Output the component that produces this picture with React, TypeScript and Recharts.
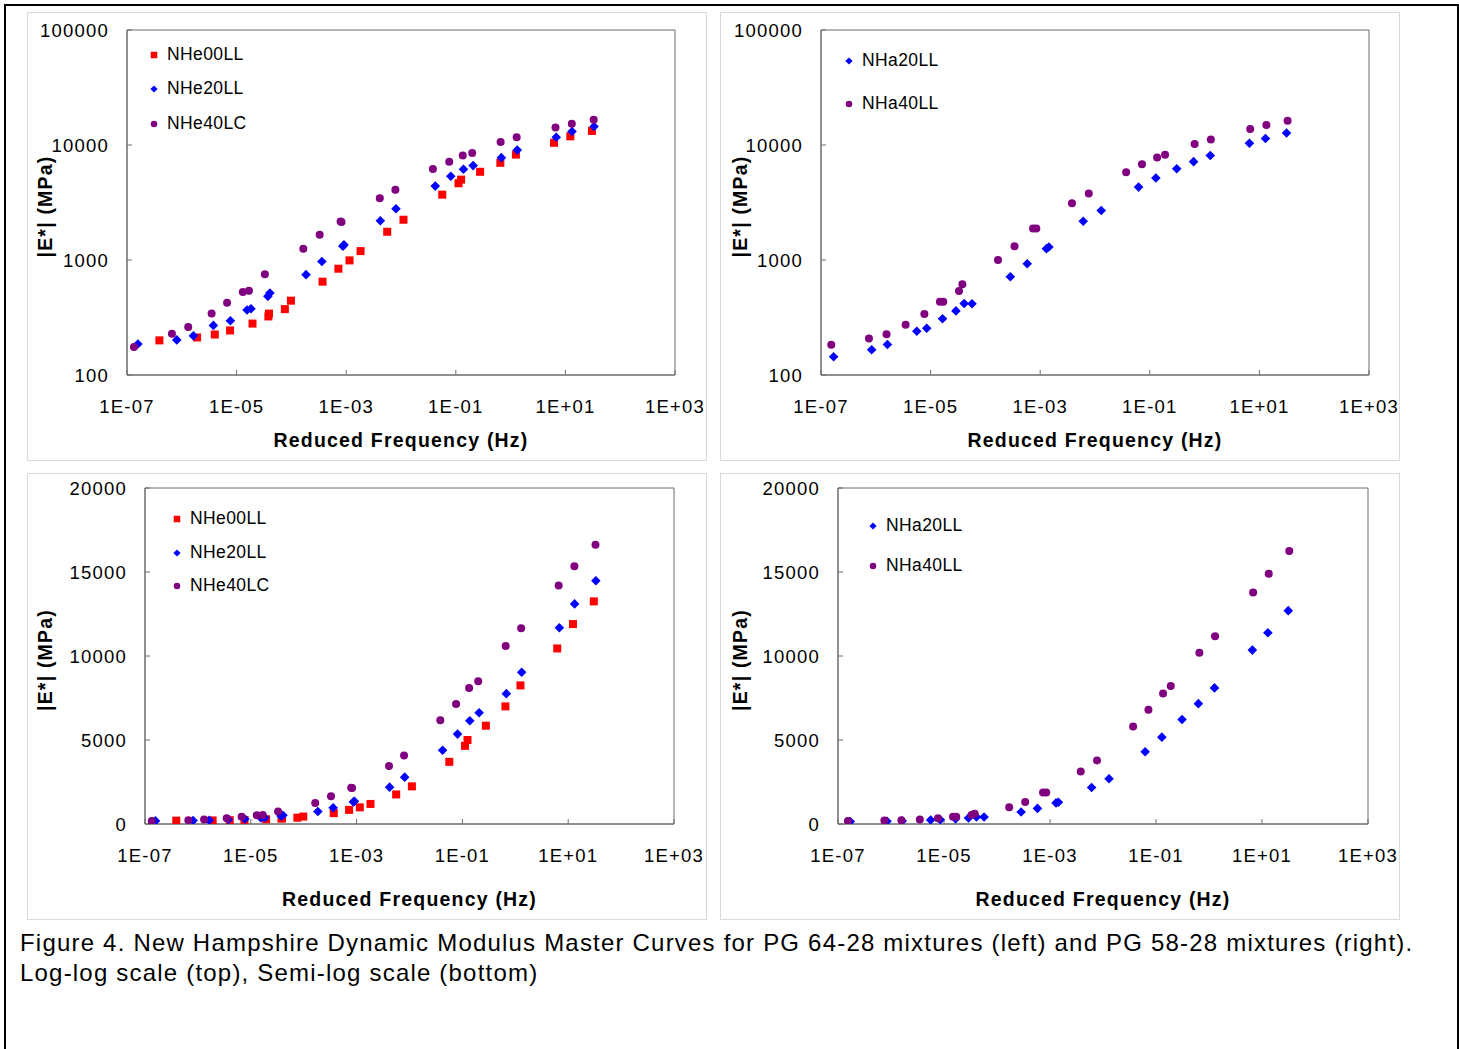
import React from 'react'
import { ScatterChart, Scatter, XAxis, YAxis, Legend, Label, ReferenceArea } from 'recharts'

const FONT = '"Liberation Sans", Arial, sans-serif'

// axis ticks
const freqTicks = [1e-7, 1e-5, 1e-3, 1e-1, 1e1, 1e3]
const logModulusTicks = [100, 1000, 10000, 100000]
const linModulusTicks = [0, 5000, 10000, 15000, 20000]

// PG 64-28 mixtures (Hz, MPa)
const nhe00llFreq = [3.9e-7, 1.9e-6, 4.0e-6, 7.6e-6, 1.95e-5, 3.8e-5, 3.9e-5, 7.6e-5, 9.8e-5, 3.7e-4, 7.2e-4, 1.15e-3, 1.83e-3, 5.6e-3, 0.0111, 0.0566, 0.112, 0.125, 0.278, 0.65, 1.25, 6.2, 12.3, 30.5]
const nhe00llModulus = [200, 212, 225, 244, 280, 323, 342, 374, 443, 648, 840, 992, 1195, 1760, 2240, 3700, 4650, 5000, 5850, 7000, 8250, 10450, 11900, 13250]

const nhe20llFreq = [1.58e-7, 8.1e-7, 1.63e-6, 3.77e-6, 7.7e-6, 1.55e-5, 1.83e-5, 3.72e-5, 4.05e-5, 1.85e-4, 3.6e-4, 8.7e-4, 9.1e-4, 4.2e-3, 8.1e-3, 0.0422, 0.081, 0.138, 0.207, 0.678, 1.32, 6.8, 13.2, 33.3]
const nhe20llModulus = [186, 202, 219, 270, 296, 367, 377, 483, 517, 746, 969, 1316, 1354, 2193, 2790, 4390, 5350, 6150, 6620, 7760, 9030, 11680, 13100, 14480]

const nhe40lcFreq = [1.34e-7, 6.6e-7, 1.31e-6, 3.5e-6, 6.7e-6, 1.3e-5, 1.68e-5, 3.28e-5, 1.65e-4, 3.28e-4, 7.9e-4, 8.2e-4, 4.1e-3, 7.9e-3, 0.0382, 0.0759, 0.134, 0.199, 0.658, 1.29, 6.6, 13.1, 32.8]
const nhe40lcModulus = [175, 228, 261, 343, 425, 527, 541, 750, 1250, 1655, 2161, 2140, 3450, 4080, 6180, 7150, 8100, 8500, 10600, 11650, 14200, 15340, 16620]

// PG 58-28 mixtures (Hz, MPa)
const nha20llFreq = [1.7e-7, 8.4e-7, 1.63e-6, 5.6e-6, 8.5e-6, 1.65e-5, 2.9e-5, 4.1e-5, 5.7e-5, 2.85e-4, 5.8e-4, 1.3e-3, 1.44e-3, 6.1e-3, 0.013, 0.0624, 0.129, 0.31, 0.63, 1.27, 6.58, 12.9, 31.3]
const nha20llModulus = [144, 166, 184, 240, 255, 308, 361, 419, 416, 716, 928, 1255, 1298, 2175, 2692, 4305, 5170, 6220, 7165, 8100, 10350, 11380, 12700]

const nha40llFreq = [1.54e-7, 7.5e-7, 1.57e-6, 3.5e-6, 7.7e-6, 1.48e-5, 1.7e-5, 3.3e-5, 3.8e-5, 1.7e-4, 3.4e-4, 7.4e-4, 8.5e-4, 3.8e-3, 7.7e-3, 0.037, 0.072, 0.136, 0.19, 0.658, 1.3, 6.8, 13.4, 32.7]
const nha40llModulus = [183, 208, 226, 273, 340, 433, 433, 537, 614, 1000, 1316, 1875, 1875, 3122, 3784, 5800, 6800, 7770, 8220, 10200, 11170, 13780, 14900, 16250]

type Marker = 'square' | 'diamond' | 'circle'

interface Series {
  name: string
  color: string
  marker: Marker
  freq: number[]
  modulus: number[]
}

const pg6428: Series[] = [
  { name: 'NHe00LL', color: '#FF0000', marker: 'square', freq: nhe00llFreq, modulus: nhe00llModulus },
  { name: 'NHe20LL', color: '#0000FF', marker: 'diamond', freq: nhe20llFreq, modulus: nhe20llModulus },
  { name: 'NHe40LC', color: '#800080', marker: 'circle', freq: nhe40lcFreq, modulus: nhe40lcModulus },
]

const pg5828: Series[] = [
  { name: 'NHa20LL', color: '#0000FF', marker: 'diamond', freq: nha20llFreq, modulus: nha20llModulus },
  { name: 'NHa40LL', color: '#800080', marker: 'circle', freq: nha40llFreq, modulus: nha40llModulus },
]

const fmtExp = (v: number) => {
  const e = Math.round(Math.log10(v))
  return '1E' + (e < 0 ? '-' : '+') + String(Math.abs(e)).padStart(2, '0')
}

function Glyph({ kind, cx, cy, size, color }: { kind: Marker; cx: number; cy: number; size: number; color: string }) {
  if (kind === 'square') {
    return <rect x={cx - size / 2} y={cy - size / 2} width={size} height={size} fill={color} />
  }
  if (kind === 'diamond') {
    const r = size * 0.6
    return <polygon points={`${cx},${cy - r} ${cx + r},${cy} ${cx},${cy + r} ${cx - r},${cy}`} fill={color} />
  }
  return <circle cx={cx} cy={cy} r={size / 2} fill={color} />
}

interface PanelProps {
  left: number
  top: number
  width: number
  height: number
  series: Series[]
  logY: boolean
  yAxisWidth: number
  plotTop: number
  plotRight: number
  xAxisHeight: number
  yTitleX: number
  xTitleDy: number
  legendX: number
  legendY: number
  legendRow: number
}

function Panel(p: PanelProps) {
  const yDomain = p.logY ? [100, 100000] : [0, 20000]
  const yTicks = p.logY ? logModulusTicks : linModulusTicks
  const tickStyle = { fontSize: 18.5, fill: '#000', fontFamily: FONT, letterSpacing: 1.2 }

  return (
    <div
      style={{
        position: 'absolute',
        left: p.left,
        top: p.top,
        width: p.width,
        height: p.height,
        border: '1px solid #d9d9d9',
        boxSizing: 'border-box',
        background: '#fff',
      }}
    >
      <div style={{ position: 'absolute', left: -1, top: -1 }}>
        <ScatterChart
          width={p.width}
          height={p.height}
          margin={{ top: p.plotTop, right: p.plotRight, bottom: 0, left: 0 }}
          style={{ fontFamily: FONT }}
        >
          <XAxis
            type="number"
            dataKey="f"
            scale="log"
            domain={[1e-7, 1e3]}
            allowDataOverflow
            ticks={freqTicks}
            interval={0}
            tickFormatter={fmtExp}
            height={p.xAxisHeight}
            tickSize={-5}
            tickMargin={30}
            tick={tickStyle}
            stroke="#6d6d6d"
          >
            <Label
              content={(props: any) => {
                const vb = props.viewBox
                return (
                  <text
                    x={vb.x + vb.width / 2}
                    y={vb.y + p.xTitleDy}
                    textAnchor="middle"
                    dominantBaseline="central"
                    fontSize={19.5}
                    fontWeight="bold"
                    letterSpacing={1.2}
                    fontFamily={FONT}
                    fill="#000"
                  >
                    Reduced Frequency (Hz)
                  </text>
                )
              }}
            />
          </XAxis>
          <YAxis
            type="number"
            dataKey="e"
            scale={p.logY ? 'log' : 'linear'}
            domain={yDomain}
            allowDataOverflow
            ticks={yTicks}
            interval={0}
            width={p.yAxisWidth}
            tickSize={-5}
            tickMargin={23}
            tick={tickStyle}
            stroke="#6d6d6d"
          >
            <Label
              content={(props: any) => {
                const vb = props.viewBox
                const x = vb.x + p.yTitleX
                const y = vb.y + vb.height / 2 + 4
                return (
                  <text
                    x={x}
                    y={y}
                    transform={`rotate(-90 ${x} ${y})`}
                    textAnchor="middle"
                    dominantBaseline="central"
                    fontSize={19.5}
                    fontWeight="bold"
                    letterSpacing={1.2}
                    fontFamily={FONT}
                    fill="#000"
                  >
                    |E*| (MPa)
                  </text>
                )
              }}
            />
          </YAxis>
          <ReferenceArea
            x1={1e-7}
            x2={1e3}
            y1={yDomain[0]}
            y2={yDomain[1]}
            fill="none"
            fillOpacity={0}
            stroke="#6d6d6d"
            strokeWidth={1}
            ifOverflow="visible"
          />
          {p.series.map((s) => (
            <Scatter
              key={s.name}
              name={s.name}
              data={s.freq.map((f, i) => ({ f, e: s.modulus[i] }))}
              fill={s.color}
              isAnimationActive={false}
              shape={(props: any) => <Glyph kind={s.marker} cx={props.cx} cy={props.cy} size={8} color={s.color} />}
            />
          ))}
          <Legend
            layout="vertical"
            align="center"
            verticalAlign="middle"
            wrapperStyle={{ left: p.legendX - 7, top: p.legendY - p.legendRow / 2, width: 'auto', height: 'auto' }}
            content={(props: any) => (
              <div>
                {(props.payload || []).map((entry: any) => {
                  const s = p.series.find((x) => x.name === entry.value)
                  if (!s) return null
                  return (
                    <div key={s.name} style={{ height: p.legendRow, display: 'flex', alignItems: 'center' }}>
                      <svg width={14} height={14} style={{ display: 'block' }}>
                        <Glyph kind={s.marker} cx={7} cy={7} size={s.marker === 'diamond' ? 6 : 6.5} color={s.color} />
                      </svg>
                      <span
                        style={{
                          marginLeft: 6,
                          fontSize: 17.5,
                          letterSpacing: 0.4,
                          fontFamily: FONT,
                          color: '#000',
                          lineHeight: 1,
                        }}
                      >
                        {s.name}
                      </span>
                    </div>
                  )
                })}
              </div>
            )}
          />
        </ScatterChart>
      </div>
    </div>
  )
}

export default function App() {
  return (
    <div
      style={{
        position: 'absolute',
        left: 0,
        top: 0,
        width: 1459,
        height: 1049,
        overflow: 'hidden',
        background: '#fff',
        fontFamily: FONT,
      }}
    >
      <div
        style={{
          position: 'absolute',
          left: 4,
          top: 4,
          width: 1455,
          height: 1200,
          border: '2px solid #000',
          boxSizing: 'border-box',
        }}
      />
      <Panel
        left={27} top={12} width={680} height={449}
        series={pg6428} logY
        yAxisWidth={100} plotTop={18} plotRight={32} xAxisHeight={86}
        yTitleX={18} xTitleDy={65}
        legendX={127} legendY={42.5} legendRow={34.5}
      />
      <Panel
        left={720} top={12} width={680} height={449}
        series={pg5828} logY
        yAxisWidth={101} plotTop={18} plotRight={31} xAxisHeight={86}
        yTitleX={20} xTitleDy={65}
        legendX={129} legendY={49} legendRow={43}
      />
      <Panel
        left={27} top={473} width={680} height={447}
        series={pg6428} logY={false}
        yAxisWidth={118} plotTop={15} plotRight={33} xAxisHeight={96}
        yTitleX={18} xTitleDy={75}
        legendX={150} legendY={46} legendRow={33.5}
      />
      <Panel
        left={720} top={473} width={680} height={447}
        series={pg5828} logY={false}
        yAxisWidth={118} plotTop={15} plotRight={32} xAxisHeight={96}
        yTitleX={20} xTitleDy={75}
        legendX={153} legendY={53} legendRow={40}
      />
      <div
        style={{
          position: 'absolute',
          left: 20,
          top: 928,
          fontSize: 24,
          letterSpacing: 1.2,
          lineHeight: '30px',
          color: '#000',
          whiteSpace: 'nowrap',
        }}
      >
        Figure 4. New Hampshire Dynamic Modulus Master Curves for PG 64-28 mixtures (left) and PG 58-28 mixtures (right).
        <br />
        Log-log scale (top), Semi-log scale (bottom)
      </div>
    </div>
  )
}
